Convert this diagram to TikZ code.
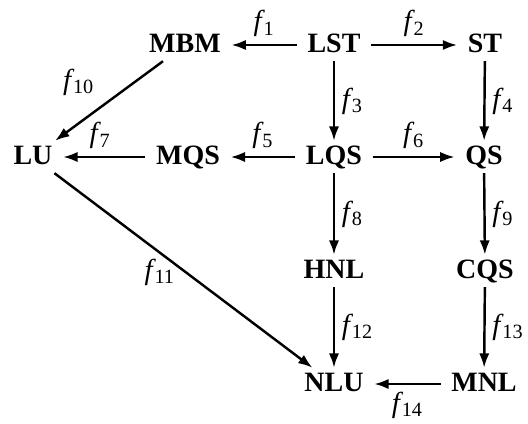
\documentclass[tikz,border=0pt]{standalone}
\usepackage{fontspec}
\setmainfont{Liberation Serif}
\usetikzlibrary{arrows.meta}
\newcommand{\fl}[1]{\textit{f}\kern-0.6pt\textsubscript{#1}}
\begin{document}
\begin{tikzpicture}[x=0.45pt,y=-0.45pt,
  nd/.style={font=\fontsize{12.6}{14}\selectfont\bfseries, text height=1.75ex, text depth=0.25ex, inner xsep=4.6pt, inner ysep=2.5pt},
  arr/.style={-{Latex[length=6.5pt,width=4.6pt]}, line width=1.1pt},
  lab/.style={font=\fontsize{13}{14}\selectfont, inner sep=3pt}]
\useasboundingbox (0,0) rectangle (528,423);
\node[nd] (MBM) at (185,45) {MBM};
\node[nd] (LST) at (334,45) {LST};
\node[nd] (ST)  at (485,45) {ST};
\node[nd] (LU)  at (33,157) {LU};
\node[nd] (MQS) at (188,157) {MQS};
\node[nd] (LQS) at (334,157) {LQS};
\node[nd] (QS)  at (484,157) {QS};
\node[nd] (HNL) at (334,271) {HNL};
\node[nd] (CQS) at (485,271) {CQS};
\node[nd] (NLU) at (334,384) {NLU};
\node[nd] (MNL) at (484,384) {MNL};
\draw[arr] (LST) -- node[lab,above]{\fl{1}} (MBM);
\draw[arr] (LST) -- node[lab,above]{\fl{2}} (ST);
\draw[arr] (LST) -- node[lab,right]{\fl{3}} (LQS);
\draw[arr] (ST) -- node[lab,right]{\fl{4}} (QS);
\draw[arr] (LQS) -- node[lab,above]{\fl{5}} (MQS);
\draw[arr] (LQS) -- node[lab,above]{\fl{6}} (QS);
\draw[arr] (MQS) -- node[lab,above,pos=0.55]{\fl{7}} (LU);
\draw[arr] (LQS) -- node[lab,right]{\fl{8}} (HNL);
\draw[arr] (QS) -- node[lab,right]{\fl{9}} (CQS);
\draw[arr] (MBM) -- node[lab,above left,xshift=-3pt,yshift=-1pt]{\fl{10}} (LU);
\draw[arr] (LU) -- node[lab,below,pos=0.4,xshift=1pt]{\fl{11}} (NLU);
\draw[arr] (HNL) -- node[lab,right]{\fl{12}} (NLU);
\draw[arr] (CQS) -- node[lab,right]{\fl{13}} (MNL);
\draw[arr] (MNL) -- node[lab,below]{\fl{14}} (NLU);
\end{tikzpicture}
\end{document}
